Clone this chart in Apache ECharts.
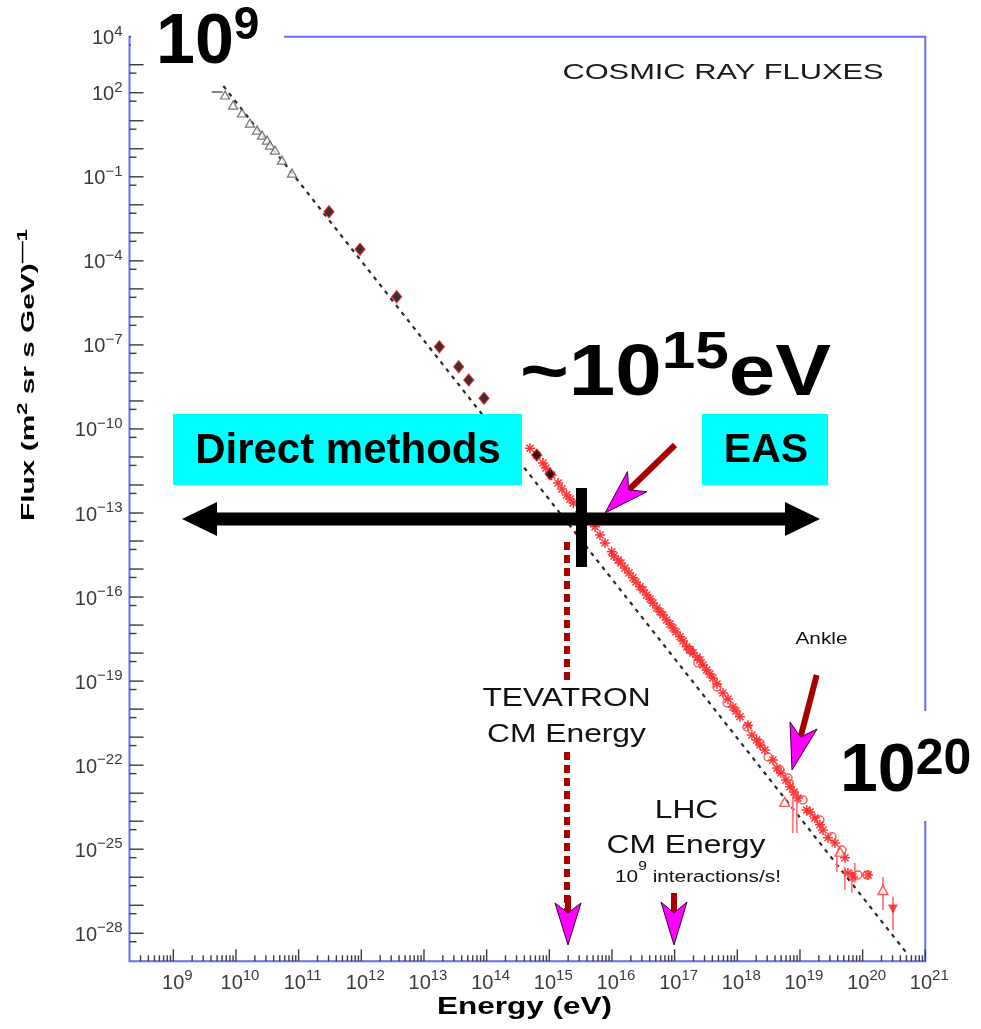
<!DOCTYPE html>
<html>
<head>
<meta charset="utf-8">
<script src="https://cdn.jsdelivr.net/npm/echarts@6/dist/echarts.min.js"></script>
<style>
  html, body { margin: 0; padding: 0; background: #fff; }
  #chart { width: 981px; height: 1029px; }
</style>
</head>
<body>
<div id="chart"></div>
<script>
// ---- Cosmic ray flux readings: energy in eV, flux in (m^2 sr s GeV)^-1 ----

// low-energy balloon / satellite points (open triangles)
const triangleE = [6.7e9, 9.0e9, 1.25e10, 1.67e10, 2.17e10, 2.61e10, 3.13e10, 3.49e10, 4.20e10, 5.43e10, 7.83e10];
const triangleF = [83, 36.4, 18.9, 8.3, 4.67, 3.09, 2.05, 1.36, 0.90, 0.396, 0.136];

// first bin, drawn as a short horizontal bar
const firstBinE = [5.0e9];
const firstBinF = [106];

// direct measurements (filled diamonds)
const diamondE = [3.05e11, 9.53e11, 3.67e12, 1.76e13, 3.58e13, 5.18e13, 9.08e13, 6.30e14, 1.03e15];
const diamondF = [5.66e-3, 2.58e-4, 5.25e-6, 8.61e-8, 1.66e-8, 5.58e-9, 1.24e-9, 1.17e-11, 2.45e-12];

// air-shower measurements (asterisks)
const starE = [4.92e14, 6.30e14, 7.93e14, 8.85e14, 1.09e15, 1.38e15, 1.59e15, 1.89e15, 2.14e15, 2.42e15,
               3.09e15, 3.99e15, 5.36e15, 6.44e15, 7.73e15, 9.89e15, 1.08e16, 1.25e16, 1.39e16, 1.61e16,
               1.87e16, 2.16e16, 2.42e16, 2.80e16, 3.13e16, 3.58e16, 4.05e16, 4.51e16, 5.22e16, 5.83e16,
               6.52e16, 7.46e16, 8.43e16, 9.42e16, 1.05e17, 1.22e17, 1.36e17, 1.56e17, 1.76e17, 1.96e17,
               2.28e17, 2.54e17, 2.83e17, 3.24e17, 3.66e17, 4.09e17, 4.74e17, 5.90e17, 7.10e17, 8.53e17,
               9.53e17, 1.10e18, 1.48e18, 1.71e18, 2.04e18, 2.30e18, 2.76e18, 3.71e18, 4.30e18, 4.97e18,
               5.98e18, 6.93e18, 8.02e18, 9.27e18, 1.28e19, 1.45e19, 1.73e19, 2.08e19, 2.33e19, 2.80e19,
               3.62e19, 5.23e19, 5.83e19, 7.01e19, 1.22e20];
const starF = [2.04e-11, 1.17e-11, 6.08e-12, 4.04e-12, 2.27e-12, 1.18e-12, 7.18e-13, 4.39e-13, 3.16e-13, 2.28e-13,
               1.11e-13, 6.11e-14, 3.24e-14, 1.64e-14, 8.49e-15, 4.16e-15, 2.92e-15, 2.10e-15, 1.64e-15, 1.09e-15,
               7.23e-16, 4.89e-16, 3.44e-16, 2.34e-16, 1.78e-16, 1.19e-16, 8.51e-17, 6.14e-17, 4.06e-17, 3.00e-17,
               2.29e-17, 1.52e-17, 1.09e-17, 7.87e-18, 5.66e-18, 3.85e-18, 2.70e-18, 1.69e-18, 1.29e-18, 1.01e-18,
               7.26e-19, 5.68e-19, 3.77e-19, 2.49e-19, 1.80e-19, 1.29e-19, 7.89e-20, 3.77e-20, 2.30e-20, 1.19e-20,
               8.59e-21, 5.37e-21, 2.65e-21, 1.19e-21, 7.93e-22, 5.25e-22, 3.48e-22, 1.53e-22, 7.93e-23, 5.25e-23,
               2.96e-23, 1.71e-23, 1.10e-23, 6.76e-24, 2.51e-24, 2.13e-24, 1.30e-24, 7.48e-25, 4.86e-25, 2.57e-25,
               1.67e-25, 4.97e-26, 1.42e-26, 1.02e-26, 1.21e-26];

// air-shower measurements (open circles)
const circleE = [1.76e17, 2.36e17, 4.74e17, 6.84e17, 1.43e18, 2.30e18, 3.09e18, 4.80e18, 6.44e18, 1.12e19,
                 2.08e19, 3.24e19, 4.68e19, 8.43e19, 1.17e20];
const circleF = [1.29e-18, 4.44e-19, 6.17e-20, 1.66e-20, 2.30e-21, 6.18e-22, 1.95e-22, 6.73e-23, 3.48e-23, 5.71e-24,
                 1.10e-24, 2.79e-25, 9.38e-26, 1.21e-26, 1.21e-26];

// highest-energy points (open triangles, one upper limit)
const uheTriE = [5.71e18, 4.35e19, 2.11e20];
const uheTriF = [4.90e-24, 8.17e-26, 3.51e-27];
const limitE = [3.05e20];
const limitF = [7.36e-28];

// vertical error bars
const errE  = [7.69e18, 8.91e18, 3.89e19, 5.19e19, 6.71e19, 7.50e19, 2.11e20, 3.05e20];
const errHi = [2.95e-23, 1.29e-23, 7.94e-26, 2.34e-26, 1.82e-26, 3.24e-26, 1.02e-26, 2.0e-27];
const errLo = [3.80e-25, 3.80e-25, 1.55e-26, 3.55e-27, 2.75e-27, 6.31e-27, 6.76e-28, 1.32e-28];

// dashed power-law reference line
const refLineE = [6.3e9, 5.3e20];
const refLineF = [1.74e2, 1.7e-29];

// axis ranges and tick labels (decade exponents)
const X_MIN = 2e8, X_MAX = 1e21, Y_MIN = 1e-29, Y_MAX = 1e4;
const xTickExponents = [9, 10, 11, 12, 13, 14, 15, 16, 17, 18, 19, 20, 21];
const yTickExponents = [-28, -27, -26, -25, -24, -23, -22, -21, -20, -19, -18, -17, -16, -15, -14, -13, -12,
                        -11, -10, -9, -8, -7, -6, -5, -4, -3, -2, -1, 0, 1, 2, 3, 4];
const yLabelExponents = [4, 2, -1, -4, -7, -10, -13, -16, -19, -22, -25, -28];
const xMinorMultipliers = [2, 3, 4, 5, 6, 7, 8, 9];
const yMinorMultipliers = [5];

// ---- helpers ----
const zip = (a, b) => a.map((v, i) => [v, b[i]]);
const FAMILY = '"Liberation Sans", Arial, Helvetica, sans-serif';
const TICK_COLOR = '#3a3a3a';
const FRAME = '#6b6bf5';

const xMinorValues = [];
for (let n = 8; n <= 20; n++) {
  xMinorMultipliers.forEach(k => {
    const v = k * Math.pow(10, n);
    if (v > X_MIN * 1.01 && v < X_MAX) xMinorValues.push(v);
  });
}
const yMinorValues = [];
for (let n = -29; n <= 3; n++) {
  yMinorMultipliers.forEach(k => yMinorValues.push(k * Math.pow(10, n)));
}

// rich styles: "b" is the base run, "s" a superscript sitting at the top of the line box
const fontStr = (size, weight) => (weight || 'normal') + ' ' + size + 'px ' + FAMILY;
const supRich = (baseSize, supSize, lineH, color, weight) => ({
  b: { font: fontStr(baseSize, weight), fontSize: baseSize, fontFamily: FAMILY, fontWeight: weight,
       lineHeight: lineH, fill: color, color: color },
  s: { font: fontStr(supSize, weight), fontSize: supSize, fontFamily: FAMILY, fontWeight: weight,
       verticalAlign: 'top', fill: color, color: color }
});
const expText = e => '{b|10}{s|' + String(e).replace('-', '\u2212') + '}';

function tickSeries(values, isX, len) {
  return {
    type: 'custom', coordinateSystem: 'cartesian2d', silent: true, clip: false, z: 4,
    data: values.map(v => isX ? [v, Y_MIN] : [X_MIN, v]),
    encode: { x: 0, y: 1 },
    renderItem: (params, api) => {
      const p = api.coord([api.value(0), api.value(1)]);
      const shape = isX
        ? { x1: p[0], y1: p[1], x2: p[0], y2: p[1] - len }
        : { x1: p[0], y1: p[1], x2: p[0] + len, y2: p[1] };
      return { type: 'line', shape: shape, style: { stroke: TICK_COLOR, lineWidth: 1.4 } };
    }
  };
}

function labelSeries(exponents, isX) {
  return {
    type: 'custom', coordinateSystem: 'cartesian2d', silent: true, clip: false, z: 4,
    data: exponents.map(e => isX ? [Math.pow(10, e), Y_MIN] : [X_MIN, Math.pow(10, e)]),
    encode: { x: 0, y: 1 },
    renderItem: (params, api) => {
      const p = api.coord([api.value(0), api.value(1)]);
      const e = exponents[params.dataIndex];
      return {
        type: 'text',
        x: isX ? p[0] + 4 : p[0] - 7,
        y: isX ? p[1] + 22 : p[1] + 2,
        style: {
          text: expText(e),
          rich: supRich(20, 15, 29, TICK_COLOR, 'normal'),
          align: isX ? 'center' : 'right',
          verticalAlign: 'middle',
          fill: TICK_COLOR
        }
      };
    }
  };
}

// ---- annotation shapes ----
function arrowHead(tip, dir, len, halfW, notch) {
  const px = -dir[1], py = dir[0];
  const bx = tip[0] - dir[0] * len, by = tip[1] - dir[1] * len;
  return [
    [tip[0], tip[1]],
    [bx + px * halfW, by + py * halfW],
    [tip[0] - dir[0] * notch, tip[1] - dir[1] * notch],
    [bx - px * halfW, by - py * halfW]
  ];
}
function unit(from, to) {
  const dx = to[0] - from[0], dy = to[1] - from[1], l = Math.hypot(dx, dy);
  return [dx / l, dy / l];
}
const MAGENTA = '#ff00ff', HEAD_EDGE = '#3a003a', SHAFT = '#a80000';

function pointerArrow(from, tip, len, halfW, notch) {
  const d = unit(from, tip);
  const neck = [tip[0] - d[0] * notch, tip[1] - d[1] * notch];
  return [
    { type: 'line', z: 20, shape: { x1: from[0], y1: from[1], x2: neck[0], y2: neck[1] },
      style: { stroke: SHAFT, lineWidth: 6 } },
    { type: 'polygon', z: 21, shape: { points: arrowHead(tip, d, len, halfW, notch) },
      style: { fill: MAGENTA, stroke: HEAD_EDGE, lineWidth: 1 } }
  ];
}

function plainText(str, x, y, size, scaleX, weight, color) {
  return {
    type: 'text', z: 22, x: x, y: y, scaleX: scaleX,
    style: { text: str, font: fontStr(size, weight), fontSize: size, fontFamily: FAMILY,
             fontWeight: weight || 'normal', fill: color || '#111', align: 'center', verticalAlign: 'middle' }
  };
}
function richText(str, x, y, rich, align, scaleX, color, rotation) {
  return {
    type: 'text', z: 22, x: x, y: y, scaleX: scaleX || 1, rotation: rotation || 0,
    style: { text: str, rich: rich, align: align, verticalAlign: 'middle', fill: color }
  };
}

const graphics = [
  // white patches where large labels break the frame
  { type: 'rect', z: 15, shape: { x: 131, y: 30, width: 153, height: 16 }, style: { fill: '#fff' } },
  { type: 'rect', z: 15, shape: { x: 918, y: 711, width: 14, height: 110 }, style: { fill: '#fff' } },

  // method boxes
  { type: 'rect', z: 18, shape: { x: 173, y: 414, width: 349, height: 71 }, style: { fill: '#00ffff' } },
  { type: 'rect', z: 18, shape: { x: 702, y: 414, width: 126, height: 71 }, style: { fill: '#00ffff' } },
  plainText('Direct methods', 348, 451, 42, 1, 'bold', '#000'),
  plainText('EAS', 766, 451, 41, 1, 'bold', '#000'),

  // double-headed arrow and knee marker
  { type: 'polygon', z: 19, shape: { points: [
      [182, 519], [217, 502], [217, 512.5], [785, 512.5], [785, 502], [820, 519],
      [785, 536], [785, 525.5], [217, 525.5], [217, 536]] }, style: { fill: '#000' } },
  { type: 'rect', z: 19, shape: { x: 576, y: 488, width: 11, height: 79 }, style: { fill: '#000' } },

  // TEVATRON dotted marker
  { type: 'line', z: 19, shape: { x1: 567, y1: 542, x2: 567, y2: 682 },
    style: { stroke: SHAFT, lineWidth: 6, lineDash: [8, 5] } },
  { type: 'line', z: 19, shape: { x1: 567, y1: 752, x2: 567, y2: 912 },
    style: { stroke: SHAFT, lineWidth: 6, lineDash: [8, 5] } },
  ...pointerArrow([568, 896], [568, 945], 42, 13, 32),
  // LHC marker
  ...pointerArrow([674, 893], [674, 945], 43, 13, 32),
  // knee pointer
  ...pointerArrow([675, 445], [605, 513], 45, 14, 33),
  // ankle pointer
  ...pointerArrow([816.7, 675], [792, 770], 46, 14, 34),

  // plot texts
  plainText('COSMIC RAY FLUXES', 723, 73, 22, 1.4, 'normal', '#1a1a1a'),
  plainText('TEVATRON', 566.5, 699, 25, 1.27, 'normal', '#111'),
  plainText('CM Energy', 566.5, 735, 25, 1.27, 'normal', '#111'),
  plainText('LHC', 686.5, 811, 25, 1.27, 'normal', '#111'),
  plainText('CM Energy', 686, 846, 25, 1.27, 'normal', '#111'),
  richText('{b|10}{s|9}{b| interactions/s!}', 698, 878, supRich(16, 12, 34, '#111', 'normal'), 'center', 1.3, '#111'),
  plainText('Ankle', 821.5, 640, 16, 1.3, 'normal', '#111'),

  // axis titles
  richText('{b|Flux (m}{s|2}{b| sr s GeV)}{s|\u20141}', 29, 375, supRich(19, 14, 26, '#000', 'bold'),
           'center', 1.57, '#000', Math.PI / 2),
  plainText('Energy (eV)', 524.5, 1008, 23, 1.37, 'bold', '#000'),

  // large energy labels
  richText('{b|10}{s|9}', 156, 43.5, supRich(70, 46, 80, '#000', 'bold'), 'left', 1, '#000'),
  richText('{b|~10}{s|15}{b|eV}', 520, 375, supRich(72, 52, 94, '#000', 'bold'), 'left', 1.16, '#000'),
  richText('{b|10}{s|20}', 840, 772.5, supRich(68, 50, 75, '#000', 'bold'), 'left', 1, '#000')
];

// ---- chart ----
const chart = echarts.init(document.getElementById('chart'), null, { renderer: 'canvas' });

const asteriskItem = (color, r, w) => (params, api) => {
  const p = api.coord([api.value(0), api.value(1)]);
  const d = r * 0.7071;
  const seg = (x1, y1, x2, y2) => ({ type: 'line', shape: { x1, y1, x2, y2 }, style: { stroke: color, lineWidth: w } });
  return { type: 'group', children: [
    seg(p[0] - r, p[1], p[0] + r, p[1]),
    seg(p[0], p[1] - r, p[0], p[1] + r),
    seg(p[0] - d, p[1] - d, p[0] + d, p[1] + d),
    seg(p[0] - d, p[1] + d, p[0] + d, p[1] - d)
  ] };
};

chart.setOption({
  animation: false,
  backgroundColor: '#fff',
  grid: {
    left: 129.5, right: 55.7, top: 36.7, bottom: 67.7,
    show: true, borderColor: FRAME, borderWidth: 2, backgroundColor: 'transparent'
  },
  xAxis: {
    type: 'log', logBase: 10, min: X_MIN, max: X_MAX,
    axisLine: { show: false }, axisTick: { show: false }, axisLabel: { show: false }, splitLine: { show: false }
  },
  yAxis: {
    type: 'log', logBase: 10, min: Y_MIN, max: Y_MAX,
    axisLine: { show: false }, axisTick: { show: false }, axisLabel: { show: false }, splitLine: { show: false }
  },
  series: [
    {
      type: 'line', data: zip(refLineE, refLineF), showSymbol: false, silent: true, z: 2,
      lineStyle: { color: '#2a2a2a', width: 2.2, type: [4, 5] }
    },
    {
      type: 'custom', coordinateSystem: 'cartesian2d', silent: true, z: 3,
      data: zip(errE, errHi).map((d, i) => [d[0], d[1], errLo[i]]),
      encode: { x: 0, y: [1, 2] },
      renderItem: (params, api) => {
        const a = api.coord([api.value(0), api.value(1)]);
        const b = api.coord([api.value(0), api.value(2)]);
        return { type: 'line', shape: { x1: a[0], y1: a[1], x2: b[0], y2: b[1] },
                 style: { stroke: '#ff7a7a', lineWidth: 1.8 } };
      }
    },
    {
      type: 'scatter', data: zip(triangleE, triangleF), symbol: 'triangle', symbolSize: [9, 8], z: 3,
      itemStyle: { color: '#fff', borderColor: '#555', borderWidth: 1.3 }
    },
    {
      type: 'scatter', data: zip(firstBinE, firstBinF), symbol: 'rect', symbolSize: [11, 1.6], z: 3,
      itemStyle: { color: '#444' }
    },
    {
      type: 'custom', coordinateSystem: 'cartesian2d', silent: true, z: 3,
      data: zip(starE, starF), encode: { x: 0, y: 1 },
      renderItem: asteriskItem('#ff3030', 5, 1.5)
    },
    {
      type: 'scatter', data: zip(circleE, circleF), symbol: 'circle', symbolSize: 8, z: 3,
      itemStyle: { color: 'rgba(255,255,255,0)', borderColor: '#ff2a2a', borderWidth: 1.4 }
    },
    {
      type: 'scatter', data: zip(uheTriE, uheTriF), symbol: 'triangle', symbolSize: [10, 9], z: 3,
      itemStyle: { color: '#fff', borderColor: '#ff3030', borderWidth: 1.4 }
    },
    {
      type: 'scatter', data: zip(limitE, limitF), symbol: 'triangle', symbolRotate: 180, symbolSize: [10, 9], z: 3,
      itemStyle: { color: '#ff1a1a' }
    },
    {
      type: 'scatter', data: zip(diamondE, diamondF), symbol: 'diamond', symbolSize: [10, 12], z: 3,
      itemStyle: { color: '#000', borderColor: '#ff1010', borderWidth: 1.2 }
    },
    tickSeries(xTickExponents.map(e => Math.pow(10, e)), true, 12),
    tickSeries(xMinorValues, true, 6),
    tickSeries(yTickExponents.map(e => Math.pow(10, e)), false, 14),
    tickSeries(yMinorValues, false, 7),
    labelSeries(xTickExponents, true),
    labelSeries(yLabelExponents, false)
  ],
  graphic: { elements: graphics }
});
</script>
</body>
</html>
